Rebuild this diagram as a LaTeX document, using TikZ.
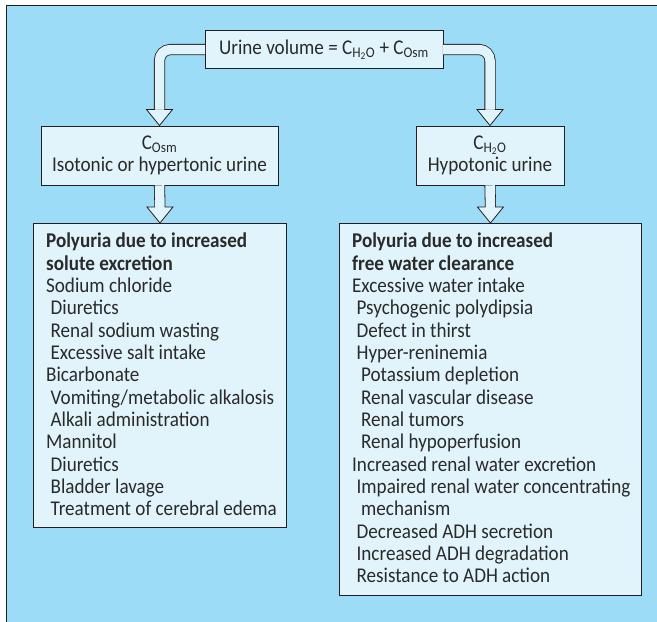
\documentclass[tikz,border=0pt]{standalone}
\usepackage{fontspec}
\setmainfont{Carlito}[FakeStretch=0.91]
\usetikzlibrary{calc}
\definecolor{skyfill}{HTML}{9DDCF7}
\definecolor{boxfill}{HTML}{E1F4FC}
\definecolor{inkline}{HTML}{231F20}
\definecolor{inktext}{HTML}{2A2A2A}
\newcommand{\ia}{\hspace*{4.5pt}}
\newcommand{\ib}{\hspace*{9pt}}
\newcommand{\clr}[1]{C\textsubscript{#1}}
\newcommand{\headto}[1]{%
  \fill[boxfill] (#1) -- ++(-13,-16) -- ++(26,0) -- cycle;
  \draw[headline] ($(#1)+(-4.75,-16)$) -- ++(-8.25,0) -- (#1) -- ++(13,-16) -- ++(-8.25,0);}
\tikzset{
  panel/.style={draw=inkline, fill=boxfill, line width=0.9pt, text=inktext,
                font=\fontsize{21}{22.33}\selectfont, inner sep=0pt},
  listbox/.style={panel, anchor=north west, align=flush left, inner xsep=12.7pt},
  shaft/.style={draw=inkline, double=boxfill, double distance=9.5pt,
                line width=0.8pt, rounded corners=11pt},
  headline/.style={draw=inkline, line width=0.8pt, line join=miter}}
\begin{document}
\begin{tikzpicture}[x=1pt, y=-1pt]
  \useasboundingbox (0,0) rectangle (657,622);
  \fill[skyfill] (6.5,5.5) rectangle (657,622);
  \draw[inkline, line width=1.2pt] (6.5,622) -- (6.5,5.5) -- (657,5.5);
  % boxes
  \node[panel, minimum width=238pt, minimum height=37.6pt] (top) at (324,49.5)
    {Urine volume = \clr{H\textsubscript{2}O} + \clr{Osm}};
  \node[panel, align=center, anchor=north, minimum width=237pt, minimum height=59.5pt]
    (lmid) at (159.5,125.5) {\clr{Osm}\\Isotonic or hypertonic urine};
  \node[panel, align=center, anchor=north, minimum width=148pt, minimum height=59.5pt]
    (rmid) at (490,125.5) {\clr{H\textsubscript{2}O}\\Hypotonic urine};
  \node[listbox, text width=227.6pt] (lbot) at (33,223)
    {\rule{0pt}{24.3pt}\textbf{Polyuria due to increased}\\
     \textbf{solute excretion}\\
     Sodium chloride\\
     \ia Diuretics\\
     \ia Renal sodium wasting\\
     \ia Excessive salt intake\\
     Bicarbonate\\
     \ia\mbox{Vomiting/metabolic alkalosis}\\
     \ia Alkali administration\\
     Mannitol\\
     \ia Diuretics\\
     \ia Bladder lavage\\
     \ia\mbox{Treatment of cerebral edema}\rule[-11.7pt]{0pt}{11.7pt}};
  \node[listbox, text width=276.6pt] (rbot) at (339,223)
    {\rule{0pt}{24.3pt}\textbf{Polyuria due to increased}\\
     \textbf{free water clearance}\\
     Excessive water intake\\
     \ia Psychogenic polydipsia\\
     \ia Defect in thirst\\
     \ia Hyper-reninemia\\
     \ib Potassium depletion\\
     \ib Renal vascular disease\\
     \ib Renal tumors\\
     \ib Renal hypoperfusion\\
     \mbox{Increased renal water excretion}\\
     \ia\mbox{Impaired renal water concentrating}\\
     \ib mechanism\\
     \ia Decreased ADH secretion\\
     \ia Increased ADH degradation\\
     \ia Resistance to ADH action\rule[-13pt]{0pt}{13pt}};
  % hollow arrows
  \draw[shaft] ($(top.west)+(0.6,0)$) -- (top.west -| lmid.north) -- ($(lmid.north)+(0,-16)$);
  \headto{lmid.north}
  \draw[shaft] ($(top.east)+(-0.6,0)$) -- (top.east -| rmid.north) -- ($(rmid.north)+(0,-16)$);
  \headto{rmid.north}
  \draw[shaft] ($(lmid.south)+(0,-0.6)$) -- ($(lbot.north)+(0,-16)$);
  \headto{lbot.north}
  \draw[shaft] ($(rmid.south)+(0,-0.6)$) -- ($(rbot.north)+(0,-16)$);
  \headto{rbot.north}
\end{tikzpicture}
\end{document}
